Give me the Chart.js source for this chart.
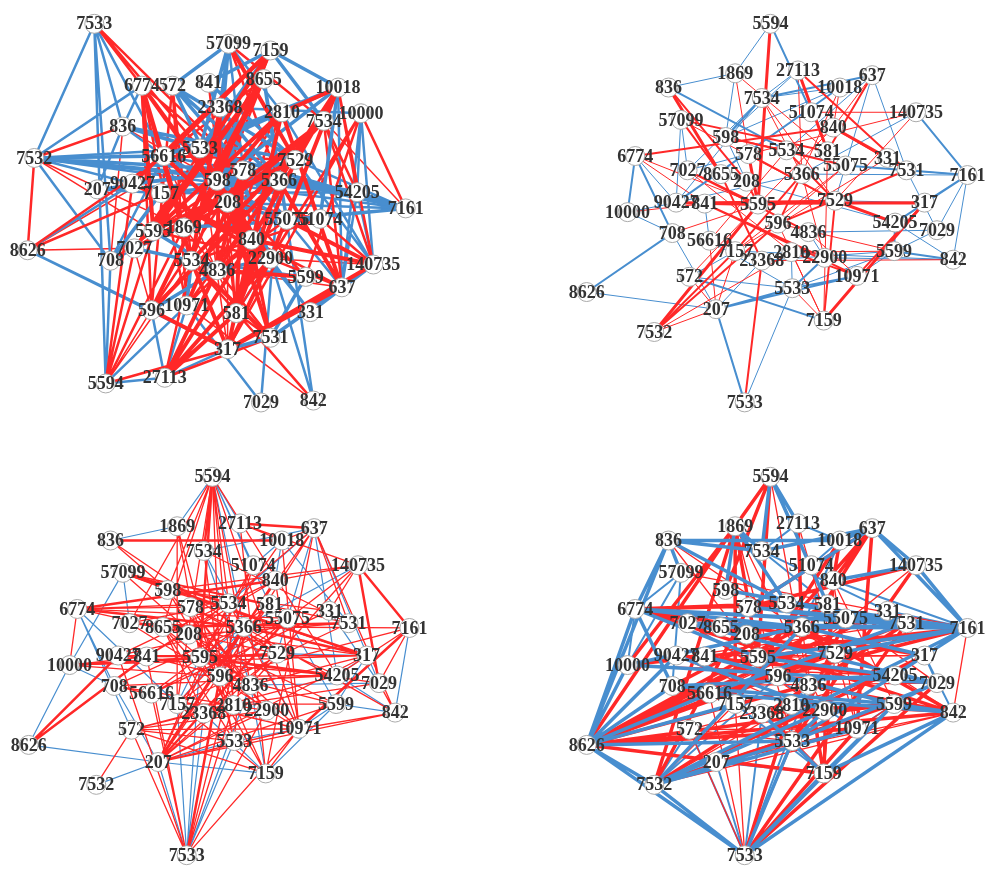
<!DOCTYPE html>
<html><head><meta charset="utf-8">
<script src="https://cdn.jsdelivr.net/npm/chart.js@4.4.0/dist/chart.umd.min.js"></script>
<style>
html,body{margin:0;padding:0;background:#fff;width:996px;height:879px;overflow:hidden}
.p{position:absolute}
</style></head><body>
<div class="p" style="left:0;top:0;width:440px;height:432px"><canvas id="c1"></canvas></div>
<div class="p" style="left:560px;top:0;width:436px;height:430px"><canvas id="c2"></canvas></div>
<div class="p" style="left:2px;top:453px;width:436px;height:426px"><canvas id="c3"></canvas></div>
<div class="p" style="left:560px;top:453px;width:436px;height:426px"><canvas id="c4"></canvas></div>
<script>
// ---------- Layout A (top-left network) ----------
const layoutANodes = ["7533","57099","7159","6774","572","841","8655","10018","23368","2810","7534","10000","836","7532","56616","5533","7529","578","598","5366","207","90427","7157","54205","208","55075","51074","7161","5595","1869","8626","7027","708","840","22900","140735","5534","4836","5599","637","596","10971","581","331","7531","317","5594","27113","7029","842"];
const layoutAX = [88,229,273,138,170,208,266,344,220,285,329,368,118,25,161,199,299,244,217,282,91,128,158,364,228,290,325,415,150,182,18,130,105,253,273,381,190,217,310,348,148,185,237,315,273,228,100,162,263,318];
const layoutAY = [14,35,42,79,79,76,72,81,102,107,116,108,122,155,153,145,157,168,179,179,188,182,192,191,202,220,219,208,232,228,252,250,263,241,261,267,263,273,280,291,315,310,318,317,344,356,392,386,412,410];

// ---------- Layout B (shared by the other three networks) ----------
const layoutBNodes = ["5594","1869","27113","637","10018","836","7534","51074","140735","57099","840","598","578","5534","581","331","55075","7531","6774","7161","7027","8655","208","5366","5595","7529","317","90427","841","10000","54205","7029","596","4836","708","56616","7157","2810","23368","22900","5599","842","572","10971","5533","8626","207","7159","7532","7533"];
const layoutBX = [210,173,239,317,283,103,201,253,363,116,276,163,187,227,270,333,289,353,68,417,123,158,185,243,197,278,372,111,141,60,341,385,218,250,107,146,173,232,201,267,340,402,125,301,233,17,153,266,88,183];
const layoutBY = [14,66,63,68,81,81,92,107,107,115,123,133,151,147,148,155,163,168,153,173,168,172,180,172,204,200,202,202,203,212,223,231,224,233,234,242,253,254,263,260,253,262,280,279,292,296,314,326,338,412];

// ---------- Edges, panel 1 ----------
const p1RedThick = "6774 5595, 6774 1869, 6774 208, 6774 5534, 6774 840, 7159 56616, 7159 5595, 7159 90427, 7159 598, 8655 5595, 8655 596, 8655 1869, 8655 7027, 10018 5366, 10018 840, 10018 22900, 10018 4836, 10018 2810, 27113 840, 27113 581, 27113 4836, 27113 22900, 317 637, 317 140735, 317 840, 317 22900, 317 596, 317 5534, 581 578, 581 5366, 581 7529, 581 2810, 7534 5534, 7534 208, 7534 1869, 637 2810, 637 5366, 140735 55075, 140735 840, 5533 840, 578 4836, 598 22900, 208 7531, 23368 5534, 23368 4836, 2810 5595, 7529 5595, 7529 7027, 5366 596, 578 10971, 56616 840, 5534 7531, 4836 5599, 7157 22900, 90427 840, 2810 1869, 57099 7529";
const p1RedMed = "7533 6774, 7533 5533, 7533 578, 6774 596, 6774 10971, 6774 578, 572 596, 572 10971, 572 5534, 841 581, 8655 5534, 8655 56616, 10000 22900, 10000 5599, 10000 581, 10000 317, 836 7532, 7532 8626, 8626 7157, 8626 56616, 5594 7027, 5594 90427, 5594 5595, 5594 1869, 5594 317, 27113 5534, 27113 7531, 7531 581, 7531 840, 7531 4836, 637 7534, 637 22900, 637 840, 140735 10018, 140735 7534, 140735 51074, 7161 10000, 54205 10018, 54205 7534, 57099 5366, 57099 7534, 7159 1869, 7159 7027, 7159 5534, 842 5534, 596 7529, 10971 5366, 10971 840, 708 578, 7027 5366, 1869 5366, 5595 22900, 4836 55075, 5534 51074, 208 51074, 598 5599, 56616 7529, 23368 7531, 2810 596, 2810 4836, 840 4836";
const p1RedThin = "5594 596, 5594 5534, 842 10971, 7532 5595, 8626 5533, 581 208, 581 840, 7531 1869, 637 4836, 140735 22900, 7161 7534, 836 598, 7532 1869, 708 836, 8626 7027, 7027 596, 56616 581, 5533 317, 208 317";
const p1BlueThick = "7159 10018, 7159 7534, 7159 841, 7159 5533, 57099 572, 57099 5533, 57099 23368, 57099 598, 572 5366, 572 7529, 572 55075, 572 208, 10018 7534, 10018 51074, 10018 598, 10018 5533, 10018 56616, 836 5533, 836 7529, 836 7161, 7532 56616, 7532 578, 7532 54205, 7161 54205, 7161 5366, 7161 578, 7161 55075, 54205 578, 54205 598, 331 637, 331 140735, 7531 140735, 7531 637, 5599 7531, 317 7531, 23368 5366, 5533 5366, 598 7529, 208 55075, 841 7529, 841 22900, 8655 5366, 8655 55075, 2810 56616, 7157 5366, 90427 578, 56616 55075, 1869 51074, 5595 4836, 7027 5534, 708 7157, 596 4836, 10971 5534, 4836 22900";
const p1BlueMed = "7533 7532, 7533 5594, 7533 708, 7533 56616, 7533 836, 57099 840, 57099 2810, 10000 54205, 10000 140735, 10000 637, 10000 23368, 836 56616, 836 207, 7532 5533, 7532 7161, 7532 5366, 7532 708, 7532 90427, 8626 596, 8626 90427, 708 5366, 708 56616, 708 5594, 5594 10971, 5594 27113, 27113 596, 27113 10971, 27113 317, 7029 10971, 7029 5366, 842 55075, 842 22900, 581 22900, 637 10018, 637 54205, 637 55075, 140735 54205, 140735 7529, 140735 2810, 7161 7529, 7161 208, 54205 7157, 54205 56616, 6774 836, 6774 7532, 331 22900, 331 840, 5599 5534, 7531 5534, 207 7157, 207 5366, 207 578, 8626 317";

// ---------- Edges, panel 2 ----------
const p2RedThick = "5594 5595, 836 8655, 840 331, 90427 5595, 841 317, 5595 7529, 7532 5595, 7159 317, 27113 581, 578 5595, 7529 54205";
const p2RedMed = "836 208, 57099 8655, 57099 581, 6774 840, 27113 7531, 637 581, 840 7531, 598 55075, 7532 596, 7532 7157, 7533 23368, 7159 7529, 10971 841, 22900 841, 10971 317, 7157 5366, 596 7531, 2810 10971, 5534 7529, 578 7529, 208 5595, 841 7529, 90427 7529, 7027 4836, 8655 23368, 5366 596, 7027 5595";
const p2RedThin = "1869 581, 6774 841, 6774 5595, 27113 5366, 10018 840, 10018 5366, 140735 51074, 140735 578, 140735 7529, 7534 5366, 7534 7529, 840 5595, 708 5595, 10000 841, 572 5595, 207 572, 207 7157, 207 56616, 7532 207, 7532 2810, 7159 5533, 7159 2810, 7159 596, 5599 596, 57099 7529, 598 5534, 1869 578, 637 840, 5366 22900, 55075 7157, 4836 10971, 581 7159, 331 7157, 55075 596, 2810 5599, 23368 842, 5534 56616, 7027 2810";
const p2BlueMed = "5594 51074, 140735 7161, 8626 708, 207 7533, 207 5533, 7159 572, 5533 10971, 5599 842, 7161 54205, 55075 7161, 836 5534, 7534 598, 10018 90427, 637 7534, 5533 22900, 708 6774, 6774 10000, 7161 317, 207 10971, 54205 5599";
const p2BlueThin = "5594 1869, 1869 836, 1869 598, 57099 90427, 57099 7027, 6774 90427, 27113 7534, 27113 598, 637 7529, 637 7531, 637 5534, 10018 598, 10018 7534, 140735 5366, 7534 90427, 7534 7027, 5366 7161, 7531 7161, 7161 7029, 8626 207, 207 708, 207 23368, 7533 5533, 5533 5599, 5533 572, 5533 56616, 10971 5599, 5599 7029, 5599 54205, 842 22900, 842 7161, 842 54205, 708 10000, 10000 90427, 572 7157, 22900 4836, 7029 7531, 317 7529, 55075 5534, 578 7027, 598 208, 841 56616, 90427 5366, 208 54205, 4836 7029, 2810 5533, 23368 5599, 7157 842";

// ---------- Edges, panel 3 ----------
const p3RedMed = "8626 841, 8626 90427, 836 10018, 637 27113, 140735 7161, 5594 5595, 5594 7534, 57099 5534, 6774 5366, 6774 840, 207 5366, 207 840, 7533 596, 10971 7161, 5366 317, 7029 140735, 57099 317, 10000 7529, 8655 7531, 5595 54205, 207 55075";
const p3RedThin = "5594 598, 5594 8655, 5594 596, 5594 7157, 5594 5534, 5594 10971, 5594 54205, 5594 2810, 5594 4836, 5594 7027, 7533 572, 7533 56616, 7533 2810, 7533 841, 7533 90427, 7533 5366, 7533 10971, 7533 22900, 207 10971, 207 5599, 207 581, 207 7529, 207 4836, 207 22900, 207 317, 207 842, 207 5534, 207 51074, 7532 572, 6774 10000, 6774 7529, 6774 55075, 6774 5534, 6774 578, 57099 581, 57099 7531, 57099 598, 57099 4836, 10000 841, 10000 5595, 10000 596, 10000 317, 708 5366, 708 54205, 708 22900, 708 10971, 572 10971, 572 5533, 572 22900, 572 7159, 572 2810, 7159 5595, 7159 578, 7159 10971, 7159 7157, 5533 8655, 5533 596, 5533 5366, 836 598, 836 7529, 1869 5595, 1869 7157, 1869 5533, 27113 10018, 27113 140735, 27113 7159, 637 10018, 637 5366, 637 7531, 637 596, 637 208, 637 7159, 10018 10971, 10018 5595, 140735 840, 140735 598, 140735 7157, 140735 4836, 140735 331, 7161 596, 7161 5366, 7161 7029, 7161 54205, 317 598, 317 841, 317 90427, 317 4836, 317 7027, 54205 90427, 54205 578, 54205 596, 54205 572, 7029 842, 7029 5595, 7029 2810, 842 5366, 842 10971, 842 637, 10971 5534, 10971 840, 10971 7027, 10971 4836, 5599 7157, 5599 841, 22900 8655, 22900 578, 7531 208, 7531 7157, 331 56616, 331 598, 55075 90427, 55075 56616, 581 7157, 581 56616, 5534 7027, 5534 841, 5534 2810, 578 4836, 578 7529, 598 2810, 598 22900, 840 90427, 840 841, 51074 5595, 51074 596, 7534 596, 7534 7531, 8655 2810, 8655 23368, 208 5599, 208 4836, 7027 5366, 23368 7529";
const p3BlueThin = "5594 1869, 5594 27113, 5594 5366, 5594 51074, 5594 581, 836 1869, 8626 10000, 8626 207, 7532 207, 7533 5533, 7533 23368, 7533 5595, 7533 207, 7533 4836, 7533 7157, 637 7534, 637 5534, 637 55075, 637 54205, 637 7029, 10018 51074, 10018 840, 10018 7531, 140735 5366, 7534 5366, 7534 4836, 57099 7027, 57099 10000, 6774 708, 6774 7157, 6774 572, 10000 708, 207 5533, 207 7159, 207 708, 5533 10971, 842 5599, 842 54205, 842 7161, 5599 10971, 10971 5366, 7159 5599, 7159 4836, 7159 23368, 5366 596, 5366 7157, 5595 7157, 5595 5366, 317 5599, 317 7529, 317 54205, 55075 5599, 7529 55075, 4836 7029, 331 7029";

// ---------- Edges, panel 4 ----------
const p4BlueThick = "8626 6774, 8626 10000, 8626 708, 8626 836, 8626 90427, 8626 7532, 8626 7533, 8626 5533, 8626 56616, 8626 7157, 836 10018, 836 6774, 836 57099, 836 5534, 836 7534, 637 7161, 637 140735, 637 10018, 637 7534, 637 578, 140735 7161, 140735 840, 7161 6774, 7161 5534, 7161 8655, 7161 578, 7161 7027, 7161 5595, 7161 7529, 7161 5533, 7161 55075, 7533 842, 7533 5599, 7533 5533, 7533 7532, 7533 7159, 7532 5533, 7532 7161, 7532 10971, 7532 22900, 7532 5366, 842 5599, 5594 7534, 5594 27113, 5594 581, 1869 598, 1869 5534, 1869 7534, 6774 5366, 6774 7531, 6774 5595, 6774 708, 10000 5366, 10000 7029, 708 5599, 708 54205, 56616 7531, 56616 842, 5533 7029, 5533 22900, 7159 5599, 7159 842, 7159 23368, 598 7531, 578 55075, 5534 7531, 5366 317, 5595 54205, 7027 7029, 841 5599, 90427 22900";
const p4BlueMed = "57099 6774, 57099 10000, 57099 708, 10000 6774, 10018 51074, 10018 5366, 27113 10018, 27113 7534, 207 7533, 207 5533, 207 7159, 207 7532, 572 7532, 572 7533, 10971 7533, 10971 5599, 5599 7029, 54205 7029, 317 7029, 317 842, 7531 7161, 331 7161, 331 7534, 840 7161, 51074 8655, 7534 55075, 23368 7533, 2810 7533, 4836 7533, 596 7532, 7157 7159, 22900 7159, 7027 10971";
const p4RedThick = "8626 5366, 8626 7529, 8626 7531, 8626 331, 8626 55075, 8626 5595, 8626 4836, 8626 5599, 8626 842, 8626 10971, 8626 596, 8626 7159, 8626 1869, 7533 7029, 7533 7531, 7533 10971, 7533 2810, 7532 317, 7532 7531, 7532 5599, 7532 578, 7532 1869, 5594 1869, 5594 598, 5594 5595, 1869 5595, 1869 10000, 1869 7157, 637 578, 637 5595, 637 10971, 637 840, 637 596, 6774 7529, 6774 581, 6774 317, 6774 842, 6774 5534, 10018 840, 10018 7157, 27113 5366, 140735 578, 140735 5533, 7161 10000, 7161 596, 7159 5533, 7159 840, 7159 4836, 842 5366, 842 4836, 5595 7161, 56616 7529, 90427 54205, 708 581, 23368 5599, 5533 55075";
const p4RedThin = "836 7529, 836 5595, 57099 7161, 5594 4836, 1869 22900, 1869 5533, 27113 10971, 10000 7531, 10000 54205, 207 10971, 207 5599, 207 842, 572 54205, 572 10971, 572 5533, 7532 842, 7532 7157, 7532 2810, 7533 55075, 7533 56616, 7533 572, 7533 7157, 7159 7529, 7159 5366, 7159 22900, 10971 840, 842 2810, 842 54205, 842 7161, 317 90427, 317 5595, 7029 596, 7029 55075, 5599 840, 5599 10971, 708 7029, 54205 841, 22900 7027, 2810 90427, 596 140735, 331 56616";

// ---------- rendering ----------
const RED = 'rgb(255,40,40)';
const BLUE = 'rgb(72,142,207)';

function pairs(s){ return s.split(',').map(t=>t.trim().split(/\s+/)).filter(p=>p.length===2); }
function edgePoints(names, xs, ys, list){
  const pts=[];
  for(const [a,b] of pairs(list)){
    const i=names.indexOf(a), j=names.indexOf(b);
    if(i<0||j<0) continue;
    pts.push({x:xs[i],y:ys[i]},{x:xs[j],y:ys[j]},{x:null,y:null});
  }
  return pts;
}
const labelPlugin = {
  id:'nodeLabels',
  afterDatasetsDraw(chart){
    const ctx=chart.ctx, meta=chart.getDatasetMeta(0), names=chart.data.datasets[0].nodeNames;
    ctx.save();
    ctx.font='bold 18px "Liberation Serif","Times New Roman",serif';
    ctx.fillStyle='#333333';
    ctx.textAlign='center';
    ctx.textBaseline='middle';
    meta.data.forEach((pt,i)=>ctx.fillText(names[i], pt.x, pt.y+1));
    ctx.restore();
  }
};
function makeChart(id, w, h, names, xs, ys, groups){
  const datasets=[{
    nodeNames:names,
    data:names.map((n,i)=>({x:xs[i],y:ys[i]})),
    pointRadius:9.5, pointHoverRadius:9.5,
    pointBackgroundColor:'#ffffff', pointBorderColor:'#aaaaaa', pointBorderWidth:1,
    showLine:false, order:0, clip:false
  }];
  groups.forEach((g,k)=>{
    datasets.push({
      data:edgePoints(names,xs,ys,g.list),
      showLine:true, spanGaps:false, borderColor:g.color, borderWidth:g.width,
      pointRadius:0, pointHoverRadius:0, order:k+1, clip:false
    });
  });
  return new Chart(document.getElementById(id),{
    type:'scatter',
    data:{datasets},
    options:{
      responsive:true, maintainAspectRatio:false, animation:false,
      layout:{padding:0},
      events:[],
      plugins:{legend:{display:false},tooltip:{enabled:false}},
      scales:{
        x:{type:'linear',min:0,max:w,display:false},
        y:{type:'linear',min:0,max:h,reverse:true,display:false}
      }
    },
    plugins:[labelPlugin]
  });
}
// order: first group drawn on top
makeChart('c1',440,432,layoutANodes,layoutAX,layoutAY,[
  {list:p1RedThick,color:RED,width:4},
  {list:p1BlueThick,color:BLUE,width:3.5},
  {list:p1RedMed,color:RED,width:2.5},
  {list:p1BlueMed,color:BLUE,width:2.5},
  {list:p1RedThin,color:RED,width:1.5}
]);
makeChart('c2',436,430,layoutBNodes,layoutBX,layoutBY,[
  {list:p2RedThick,color:RED,width:3},
  {list:p2RedMed,color:RED,width:2},
  {list:p2BlueMed,color:BLUE,width:2},
  {list:p2RedThin,color:RED,width:1},
  {list:p2BlueThin,color:BLUE,width:1}
]);
makeChart('c3',436,426,layoutBNodes,layoutBX,layoutBY,[
  {list:p3RedMed,color:RED,width:2.5},
  {list:p3RedThin,color:RED,width:1.3},
  {list:p3BlueThin,color:BLUE,width:1.2}
]);
makeChart('c4',436,426,layoutBNodes,layoutBX,layoutBY,[
  {list:p4BlueThick,color:BLUE,width:3.5},
  {list:p4RedThick,color:RED,width:3.5},
  {list:p4RedThin,color:RED,width:1.3},
  {list:p4BlueMed,color:BLUE,width:2}
]);
</script>
</body></html>
